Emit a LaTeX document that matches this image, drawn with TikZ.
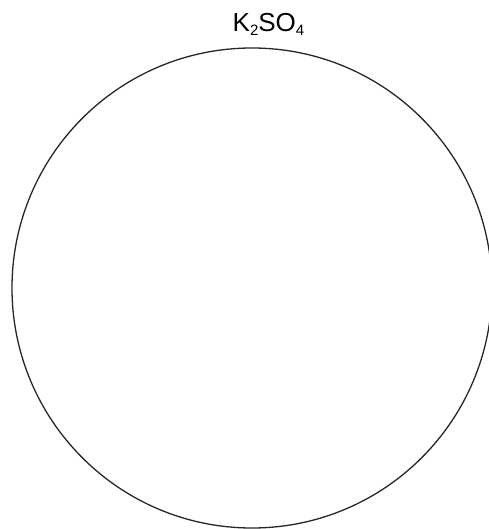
\documentclass[tikz,border=0pt]{standalone}
\usepackage{fontspec}
\setmainfont{Liberation Sans}
\usetikzlibrary{positioning}
\newcommand{\chemsub}[1]{\raisebox{-4pt}{\fontsize{15}{15}\selectfont #1}}
\begin{document}
\begin{tikzpicture}[x=1pt, y=-1pt]
  \useasboundingbox (0,0) rectangle (488,529);
  \node[draw=black!85, circle, line width=1.3pt, minimum size=480pt, inner sep=0pt] (salt) at (252,288) {};
  \node[font=\fontsize{26}{28}\selectfont, inner sep=0pt, above=12pt of salt.north, xshift=16.5pt] (saltlabel) {K\chemsub{2}SO\chemsub{4}};
\end{tikzpicture}
\end{document}
